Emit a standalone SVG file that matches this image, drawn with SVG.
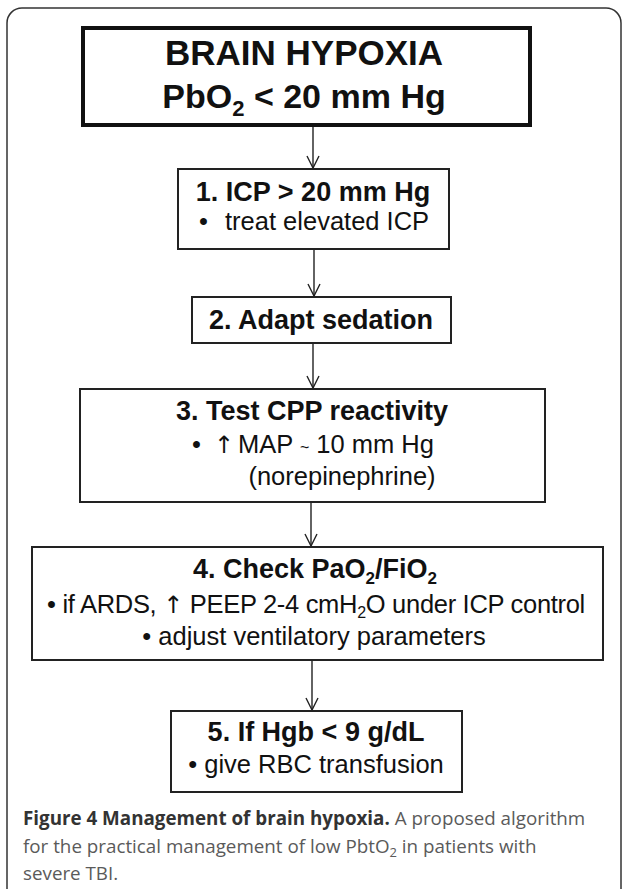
<svg xmlns="http://www.w3.org/2000/svg" width="624" height="889" viewBox="0 0 624 889">
<defs>
<marker id="ah" viewBox="0 0 14 14" refX="13" refY="7" markerWidth="14" markerHeight="14" markerUnits="userSpaceOnUse" orient="auto">
<polyline points="1,1 13,7 1,13" fill="none" stroke="#222" stroke-width="1.4"/>
</marker>
</defs>
<style>
.frame{fill:none;stroke:#333;stroke-width:1.5}
.box{fill:#fff;stroke:#222;stroke-width:2}
.box0{fill:#fff;stroke:#111;stroke-width:4}
.t{font-family:"Liberation Sans",Arial,sans-serif;fill:#111;text-anchor:middle}
.s{text-anchor:start}
.r{font-size:25.5px}
.b{font-weight:bold;font-size:27px}
.up{font-family:"DejaVu Sans",sans-serif;font-size:24px}
.cap{font-family:"Open Sans","Noto Sans",sans-serif;font-size:18.8px;fill:#5a5a5a}
.capb{font-weight:bold;fill:#333}
.conn line{stroke:#222;stroke-width:1.4;marker-end:url(#ah)}
</style>
<rect class="frame" x="7" y="8" width="614" height="900" rx="15" ry="15"/>
<g class="conn">
<line x1="313" y1="127" x2="313" y2="168"/>
<line x1="314" y1="250" x2="314" y2="296"/>
<line x1="313" y1="344" x2="313" y2="388"/>
<line x1="311" y1="503" x2="311" y2="546"/>
<line x1="312" y1="661" x2="312" y2="710"/>
</g>
<g id="n0">
<rect class="box0" x="83" y="28" width="447" height="97"/>
<text class="t" x="304" y="65" font-size="35" font-weight="bold">BRAIN HYPOXIA</text>
<text class="t" x="304" y="108" font-size="34" font-weight="bold">PbO<tspan font-size="22" dy="8">2</tspan><tspan dy="-8"> &lt; 20 mm Hg</tspan></text>
</g>
<g id="n1">
<rect class="box" x="178" y="169" width="271" height="80"/>
<text class="t b" x="313" y="201">1. ICP &gt; 20 mm Hg</text>
<text class="t r s" x="199" y="230">•</text>
<text class="t r s" x="225" y="230">treat elevated ICP</text>
</g>
<g id="n2">
<rect class="box" x="192" y="297" width="259" height="46"/>
<text class="t b" x="321" y="329">2. Adapt sedation</text>
</g>
<g id="n3">
<rect class="box" x="80" y="389" width="465" height="113"/>
<text class="t b" x="312" y="420">3. Test CPP reactivity</text>
<text class="t r s" x="192" y="453">•</text>
<text class="t s up" x="214" y="453">↑</text>
<text class="t r s" x="238" y="453">MAP <tspan font-size="16">~</tspan> 10 mm Hg</text>
<text class="t r" x="342" y="485">(norepinephrine)</text>
</g>
<g id="n4">
<rect class="box" x="32" y="547" width="571" height="113"/>
<text class="t b" x="315" y="578">4. Check PaO<tspan font-size="17" dy="6">2</tspan><tspan dy="-6">/FiO</tspan><tspan font-size="17" dy="6">2</tspan></text>
<text class="t r" x="316" y="613" letter-spacing="-0.3">• if ARDS, <tspan class="up" font-size="21">↑</tspan> PEEP 2-4 cmH<tspan font-size="16" dy="5">2</tspan><tspan dy="-5">O under ICP control</tspan></text>
<text class="t r" x="314" y="645">• adjust ventilatory parameters</text>
</g>
<g id="n5">
<rect class="box" x="171" y="711" width="291" height="81"/>
<text class="t b" x="316" y="741">5. If Hgb &lt; 9 g/dL</text>
<text class="t r" x="316" y="773">• give RBC transfusion</text>
</g>
<g id="caption">
<text class="cap" x="23" y="825"><tspan class="capb">Figure 4 Management of brain hypoxia.</tspan> A proposed algorithm</text>
<text class="cap" x="23" y="853">for the practical management of low PbtO<tspan font-size="13" dy="4">2</tspan><tspan dy="-4"> in patients with</tspan></text>
<text class="cap" x="23" y="880">severe TBI.</text>
</g>
</svg>
